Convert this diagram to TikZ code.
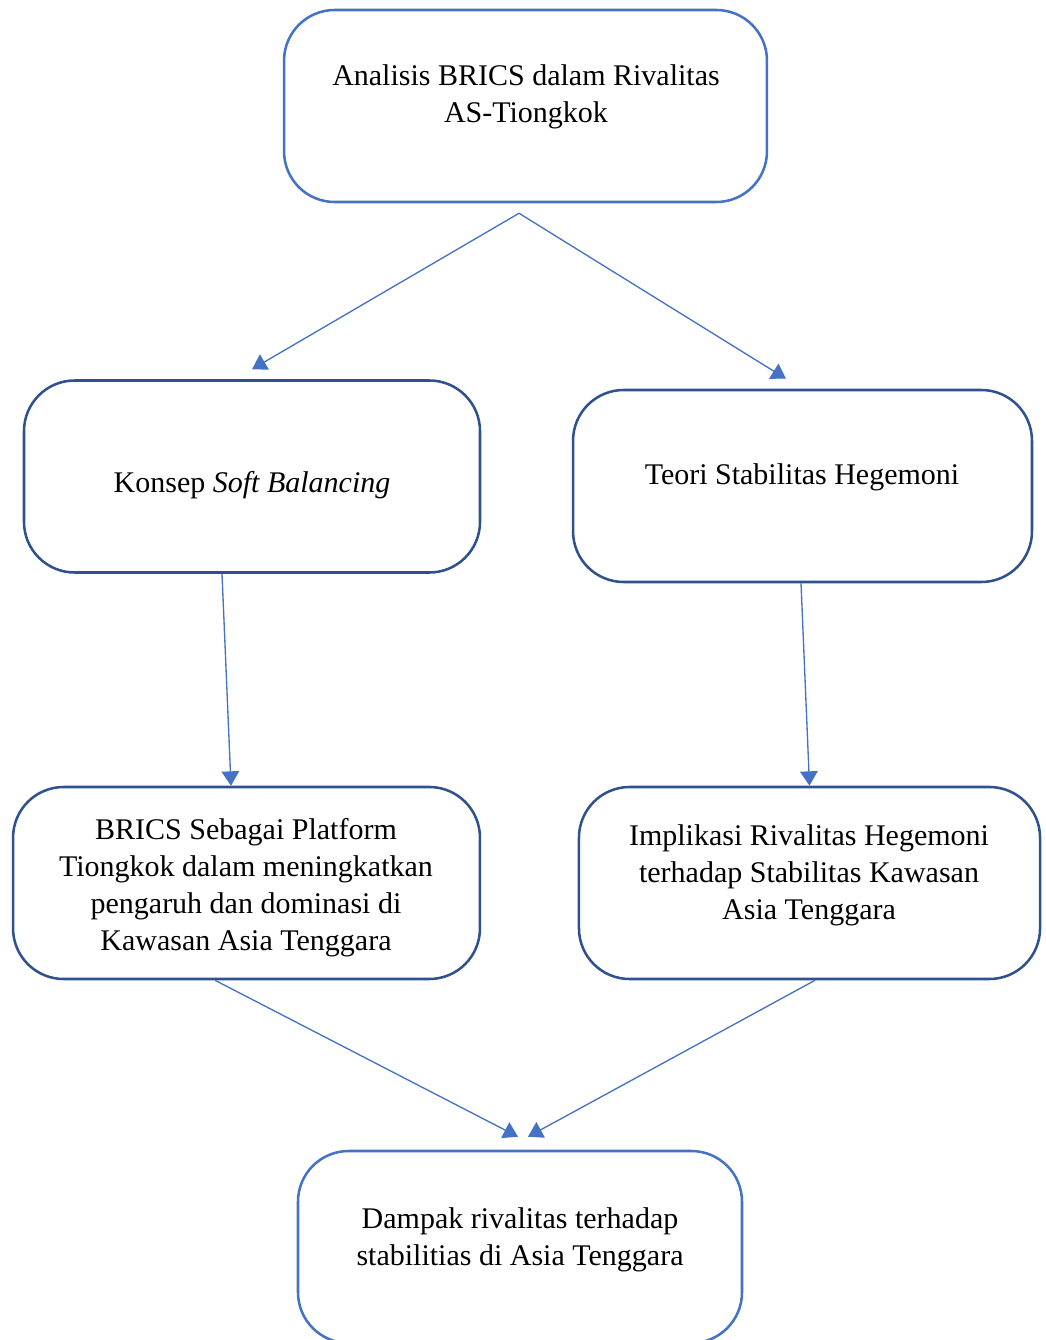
\documentclass[tikz,border=0pt]{standalone}
\usepackage{fontspec}
\setmainfont{Liberation Serif}
\usetikzlibrary{calc}
\usetikzlibrary{arrows.meta}
\definecolor{boxblue}{RGB}{68,114,196}
\definecolor{darkblue}{RGB}{47,82,143}

\begin{document}
\begin{tikzpicture}[x=0.375pt, y=-0.375pt,
    box/.style={draw=boxblue, line width=0.95pt, rounded corners=19pt,
      minimum height=72pt, inner sep=0pt},
    darkbox/.style={box, draw=darkblue},
    txt/.style={align=center, inner sep=0pt, font=\fontsize{11.25pt}{13.9pt}\selectfont},
    arr/.style={draw=boxblue, line width=0.5pt, -{Triangle[length=5.4pt,width=6.6pt]}}]
      \useasboundingbox (0,0) rectangle (1046,1340);
      \clip (0,0) rectangle (1046,1340);

      \node[box, minimum width=181.1pt] (analisis) at (525.5,106) {};
      \node[darkbox, minimum width=171pt] (soft) at (252,476.5) {};
      \node[darkbox, minimum width=172.1pt] (hegemoni) at (802.5,486) {};
      \node[darkbox, minimum width=175.1pt] (platform) at (246.5,883) {};
      \node[darkbox, minimum width=172.9pt] (implikasi) at (809.5,883) {};
      \node[box, minimum width=166.5pt] (dampak) at (520,1247) {};

      \node[txt] (analisis-txt) at (526,97) {Analisis BRICS dalam Rivalitas\\AS-Tiongkok};
      \node[txt] (soft-txt) at (252,485) {Konsep \textit{Soft Balancing}};
      \node[txt] (hegemoni-txt) at (802,477) {Teori Stabilitas Hegemoni};
      \node[txt] (platform-txt) at (246,888) {BRICS Sebagai Platform\\Tiongkok dalam meningkatkan\\pengaruh dan dominasi di\\Kawasan Asia Tenggara};
      \node[txt] (implikasi-txt) at (809,875) {Implikasi Rivalitas Hegemoni\\terhadap Stabilitas Kawasan\\Asia Tenggara};
      \node[txt] (dampak-txt) at (520,1240) {Dampak rivalitas terhadap\\stabilitias di Asia Tenggara};

      \draw[arr] ($(analisis.south)+(-6.5,10)$) -- ($(soft.north)+(0,-10)$);
      \draw[arr] ($(analisis.south)+(-6.5,10)$) -- ($(hegemoni.north)+(-16.5,-10)$);
      \draw[arr] ($(soft.south)+(-30,0)$) -- ($(platform.north)+(-15.5,0)$);
      \draw[arr] ($(hegemoni.south)+(-1.5,0)$) -- (implikasi.north);
      \draw[arr] ($(platform.south)+(-31.5,0)$) -- ($(dampak.north)+(-2,-13)$);
      \draw[arr] ($(implikasi.south)+(5.5,0)$) -- ($(dampak.north)+(8,-13)$);
    \end{tikzpicture}
\end{document}
